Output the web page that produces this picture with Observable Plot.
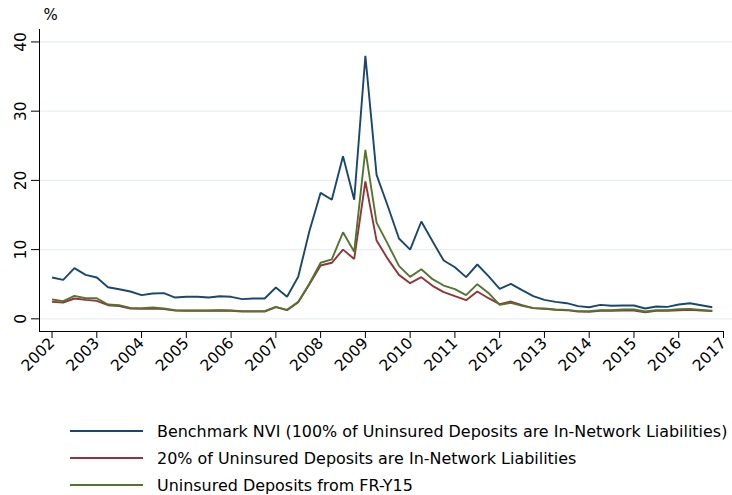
<!DOCTYPE html>
<html>
<head>
<meta charset="utf-8">
<script src="https://cdn.jsdelivr.net/npm/d3@7"></script>
<script src="https://cdn.jsdelivr.net/npm/@observablehq/plot@0.6"></script>
<style>
  html, body { margin: 0; padding: 0; background: #fff; }
  #wrap { position: relative; width: 732px; height: 495px; overflow: hidden; }
  #legend { position: absolute; left: 0; top: 0; width: 732px; height: 495px; pointer-events: none; }
  .row { position: absolute; left: 70px; height: 20px; display: flex; align-items: center;
         font-family: "DejaVu Sans", sans-serif; font-size: 15.95px; color: #000; white-space: nowrap; }
  .row svg { margin-right: 14px; }
</style>
</head>
<body>
<div id="wrap"><div id="chart"></div><div id="legend"></div></div>
<script>
// Quarterly series, 2002Q1 – 2016Q4 (percent)
const startYear = 2002;
const nvi100 = [5.97, 5.63, 7.32, 6.35, 5.97, 4.57, 4.28, 3.95, 3.42, 3.66, 3.71, 3.08,
  3.18, 3.18, 3.08, 3.27, 3.18, 2.84, 2.94, 2.94, 4.52, 3.18, 6.07, 12.7,
  18.2, 17.2, 23.5, 17.2, 38.0, 20.8, 16.3, 11.6, 10.0, 14.06, 11.2, 8.42,
  7.46, 6.02, 7.85, 6.16, 4.33, 5.05, 4.14, 3.27, 2.74, 2.45, 2.26, 1.83,
  1.68, 2.02, 1.88, 1.93, 1.93, 1.49, 1.78, 1.73, 2.07, 2.26, 1.97, 1.68];
const nvi20 = [2.45, 2.36, 2.94, 2.74, 2.60, 1.97, 1.83, 1.49, 1.44, 1.49, 1.40, 1.20,
  1.16, 1.16, 1.16, 1.20, 1.16, 1.06, 1.06, 1.06, 1.68, 1.25, 2.41, 5.0,
  7.7, 8.1, 10.0, 8.65, 19.85, 11.3, 8.66, 6.35, 5.15, 6.02, 4.77, 3.85,
  3.27, 2.70, 3.95, 2.98, 2.12, 2.50, 1.97, 1.54, 1.44, 1.30, 1.25, 1.06,
  1.01, 1.16, 1.16, 1.20, 1.20, 0.96, 1.16, 1.16, 1.25, 1.30, 1.20, 1.11];
const nviFRY15 = [2.79, 2.55, 3.32, 2.98, 2.98, 2.07, 1.97, 1.59, 1.54, 1.64, 1.49, 1.25,
  1.20, 1.20, 1.20, 1.25, 1.20, 1.11, 1.11, 1.11, 1.73, 1.30, 2.45, 5.1,
  8.1, 8.6, 12.5, 9.7, 24.4, 13.9, 10.83, 7.65, 6.06, 7.17, 5.73, 4.81,
  4.28, 3.42, 5.01, 3.75, 2.02, 2.31, 1.88, 1.54, 1.49, 1.35, 1.30, 1.11,
  1.11, 1.25, 1.25, 1.35, 1.35, 1.06, 1.25, 1.25, 1.40, 1.44, 1.30, 1.16];

const seriesNames = [
  "Benchmark NVI (100% of Uninsured Deposits are In-Network Liabilities)",
  "20% of Uninsured Deposits are In-Network Liabilities",
  "Uninsured Deposits from FR-Y15"
];
const seriesValues = [nvi100, nvi20, nviFRY15];
const seriesColors = ["#1a476f", "#90353b", "#55752f"];

const yearTicks = d3.range(2002, 2018);
const yTicks = [0, 10, 20, 30, 40];
const xDomain = [2001.72, 2017];
const yDomain = [-1.83, 41.8];

const rows = seriesNames.flatMap((name, s) =>
  seriesValues[s].map((v, i) => ({series: name, t: startYear + i / 4, v})));

const chart = Plot.plot({
  width: 732,
  height: 375,
  marginTop: 29,
  marginLeft: 39,
  marginRight: 9,
  marginBottom: 44,
  style: {fontFamily: "DejaVu Sans, sans-serif", fontSize: "15.5px", color: "#000", background: "#fff", overflow: "visible"},
  x: {domain: xDomain},
  y: {domain: yDomain},
  color: {domain: seriesNames, range: seriesColors},
  marks: [
    Plot.ruleY(yTicks, {stroke: "#e8eff1", strokeWidth: 1.3, insetRight: -9}),
    Plot.ruleX([xDomain[0]], {stroke: "#000", strokeWidth: 1}),
    Plot.ruleY([yDomain[0]], {stroke: "#000", strokeWidth: 1}),
    Plot.axisX({ticks: yearTicks, tickFormat: d => String(d), tickSize: 7, tickPadding: 2,
      tickRotate: -45, label: null, stroke: "#000", fill: "#000", fontSize: 15.5}),
    Plot.axisY({ticks: yTicks, tickSize: 8, tickPadding: 6, tickRotate: -90,
      label: null, stroke: "#000", fill: "#000", fontSize: 15.5}),
    Plot.text(["%"], {frameAnchor: "top-left", dx: 4, dy: -14, textAnchor: "start",
      lineAnchor: "middle", fontSize: 15, fill: "#000"}),
    Plot.line(rows, {x: "t", y: "v", z: "series", stroke: "series", strokeWidth: 1.9,
      strokeLinejoin: "miter", strokeLinecap: "butt"})
  ]
});
document.getElementById("chart").appendChild(chart);

// legend below the plot
const legend = document.getElementById("legend");
const rowCenters = [431, 458, 485];
seriesNames.forEach((name, s) => {
  const row = document.createElement("div");
  row.className = "row";
  row.style.top = (rowCenters[s] - 10) + "px";
  row.innerHTML = `<svg width="73" height="4"><line x1="0" x2="73" y1="2" y2="2" stroke="${seriesColors[s]}" stroke-width="1.9"/></svg><span>${name}</span>`;
  legend.appendChild(row);
});
</script>
</body>
</html>
